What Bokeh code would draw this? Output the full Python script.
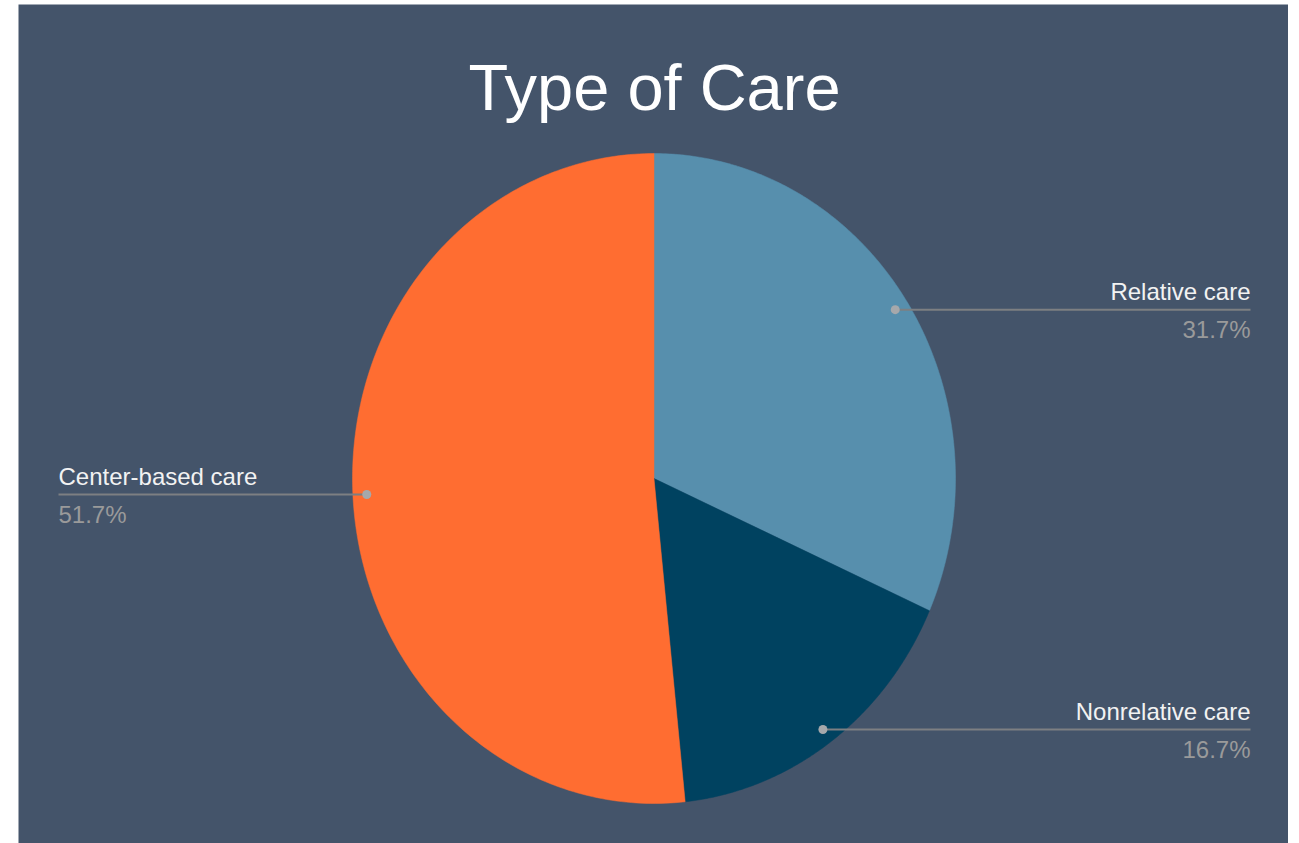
import numpy as np
from bokeh.plotting import figure
from bokeh.models import Range1d
from bokeh.core.properties import value
from bokeh.embed import file_html
from bokeh.resources import INLINE

# ---- data ----
title_text = "Type of Care"
categories = ["Relative care", "Nonrelative care", "Center-based care"]
shares = [31.7, 16.7, 51.7]
colors = ["#578fad", "#004260", "#ff6d31"]

# ---- layout (screen pixels, y downward) ----
X0, X1 = 18, 1288
Y0, Y1 = 4, 843
cx, cy = 653.5, 478.0
rx, ry = 301.5, 325.0
FONT = "Liberation Sans"

p = figure(width=X1, height=Y1, output_backend="svg", toolbar_location=None,
           x_range=Range1d(X0, X1), y_range=Range1d(Y1, Y0),
           min_border_left=X0, min_border_right=0, min_border_top=Y0, min_border_bottom=0)
p.axis.visible = False
p.grid.visible = False
p.outline_line_color = None
p.border_fill_color = "white"
p.background_fill_color = "#44546a"

total = float(sum(shares))
fr = np.cumsum([0.0] + shares) / total
xs, ys = [], []
for i in range(len(shares)):
    th = np.linspace(fr[i], fr[i + 1], 200) * 2 * np.pi
    xs.append([cx] + list(cx + rx * np.sin(th)) + [cx])
    ys.append([cy] + list(cy - ry * np.cos(th)) + [cy])
p.patches(xs, ys, fill_color=colors, line_color=colors, line_width=0.5)

# title
p.text(x=[654], y=[87], text=[title_text], text_font=value(FONT),
       text_font_size="65px", text_color="white", text_align="center",
       text_baseline="alphabetic")

# labels
mids = (fr[:-1] + fr[1:]) / 2 * 2 * np.pi
dot_x = cx + 0.954 * rx * np.sin(mids)
dot_y = cy - 0.954 * ry * np.cos(mids)
for i, cat in enumerate(categories):
    right = dot_x[i] > cx
    lx = 1250 if right else 58
    align = "right" if right else "left"
    ly = dot_y[i]
    p.line([dot_x[i], lx], [ly, ly], line_color="#7d7f82", line_width=2)
    p.scatter([dot_x[i]], [ly], size=9, fill_color="#a6a8ab", line_color=None)
    p.text(x=[lx], y=[ly - 18], text=[cat], text_font=value(FONT),
           text_font_size="24px", text_color="#f2f2f2", text_align=align,
           text_baseline="alphabetic")
    p.text(x=[lx], y=[ly + 20], text=["%.1f%%" % shares[i]], text_font=value(FONT),
           text_font_size="24px", text_color="#9a9a9a", text_align=align,
           text_baseline="alphabetic")

open("out.html", "w").write(file_html(p, INLINE))
